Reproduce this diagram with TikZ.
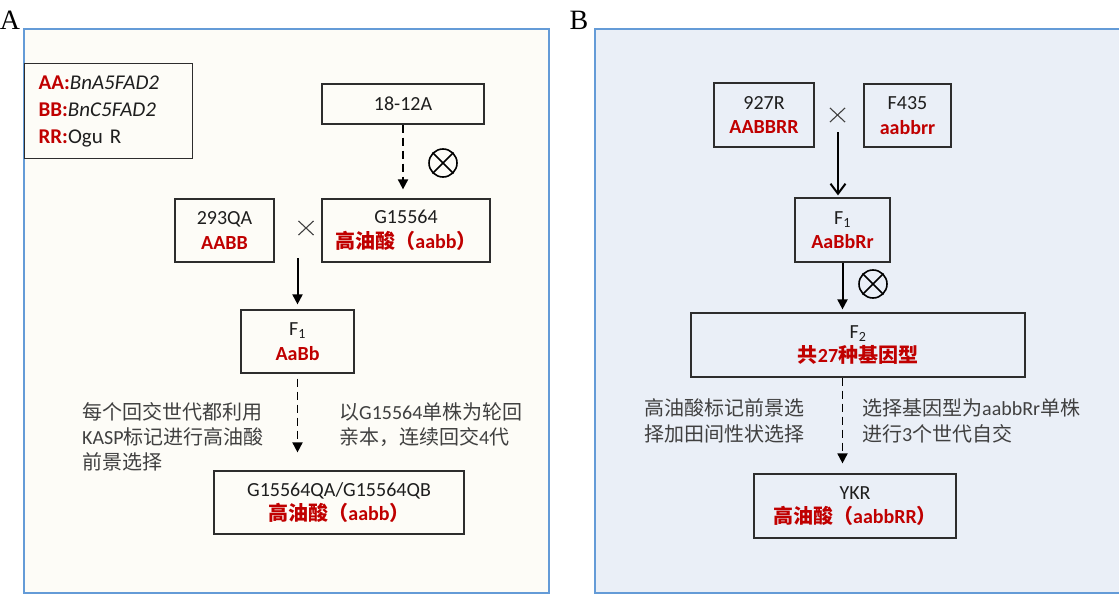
\documentclass[tikz,border=0pt]{standalone}
\usepackage{fontspec}
\setmainfont{Carlito}
\newfontfamily\cjk{Noto Sans CJK SC}
\newfontfamily\lblfont{Liberation Serif}
\usetikzlibrary{arrows.meta,shapes.misc}
\definecolor{frameblue}{RGB}{100,155,215}
\definecolor{fillA}{RGB}{253,252,247}
\definecolor{fillB}{RGB}{234,239,247}
\definecolor{redt}{RGB}{192,0,0}
\definecolor{txt}{RGB}{30,30,30}
\definecolor{notec}{RGB}{64,64,64}
\definecolor{boxc}{RGB}{45,45,45}
\newcommand\zh[1]{{\cjk #1}}
\newcommand\rd[1]{{\color{redt}\bfseries #1}}
\begin{document}
\begin{tikzpicture}[x=1pt,y=-1pt,
 box/.style={draw=boxc,line width=1.2pt,align=center,inner sep=0pt,text=txt,font=\fontsize{20}{24.5}\selectfont},
 notetext/.style={align=left,inner sep=0pt,text=notec,anchor=north west,font=\fontsize{20}{25}\selectfont},
 frame/.style={draw=frameblue,line width=2.5pt},
 selfing/.style={circle,draw=black,line width=1.6pt,minimum size=28pt,inner sep=0pt},
 crossx/.style={cross out,draw=notec,line width=1.1pt,minimum width=14pt,minimum height=13pt,inner sep=0pt},
 solidarr/.style={line width=2pt,-{Triangle[width=10pt,length=10pt]}},
 dasharr/.style={line width=1.8pt,dash pattern=on 8pt off 5pt,-{Triangle[width=10pt,length=10pt]}},
 panel/.style={font=\lblfont\fontsize{28}{28}\selectfont,inner sep=0pt,text=black}
]
\useasboundingbox (0,0) rectangle (1119,594);
\fill[white] (0,0) rectangle (1119,594);
% frames
\draw[frame,fill=fillA] (24,29) rectangle (549,593);
\draw[frame,fill=fillB] (595,29) rectangle (1130,593);
\node[panel] (labA) at (10,20) {A};
\node[panel] (labB) at (579,20) {B};

% ---------- Panel A ----------
\node[box,anchor=north west,text width=140pt,align=left,inner xsep=14pt,minimum height=95pt,font=\fontsize{21}{27}\selectfont] (legend) at (24,63)
 {\rd{AA:}\textit{BnA5FAD2}\\\rd{BB:}\textit{BnC5FAD2}\\\rd{RR:}Ogu R};
\node[box,minimum width=162pt,minimum height=40pt] (p1812) at (403,104) {18-12A};
\node[box,minimum width=99pt,minimum height=63pt] (q293) at (224.5,230.5) {293QA\\\rd{AABB}};
\node[box,minimum width=168pt,minimum height=63pt] (g155) at (406,230.5) {G15564\\\rd{\zh{高油酸（}aabb\zh{）}}};
\node[box,minimum width=113pt,minimum height=63pt] (f1a) at (297.5,341.5) {F\textsubscript{1}\\\rd{AaBb}};
\node[box,minimum width=250pt,minimum height=63pt] (bota) at (339,502.5) {G15564QA/G15564QB\\\rd{\zh{高油酸（}aabb\zh{）}}};
\node[selfing] (selfA) at (443,163) {};
\draw[line width=1.6pt] (selfA.north east) -- (selfA.south west) (selfA.north west) -- (selfA.south east);
\node[crossx] (xA) at (306,228) {};
\node[notetext] (noteA1) at (82,402) {\zh{每个回交世代都利用}\\KASP\zh{标记进行高油酸}\\\zh{前景选择}};
\node[notetext] (noteA2) at (339,402) {\zh{以}G15564\zh{单株为轮回}\\\zh{亲本，连续回交}4\zh{代}};
\draw[dasharr,shorten >=9pt] (p1812.south) -- (p1812.south |- g155.north);
\coordinate (crossA) at (297.5,258);
\draw[solidarr,shorten >=5pt] (crossA) -- (crossA |- f1a.north);
\draw[dasharr,shorten <=5pt,shorten >=18pt] (f1a.south) -- (f1a.south |- bota.north);

% ---------- Panel B ----------
\node[box,minimum width=100pt,minimum height=64pt] (r927) at (764,115) {927R\\\rd{AABBRR}};
\node[box,minimum width=87pt,minimum height=63pt] (f435) at (907.5,115.5) {F435\\\rd{aabbrr}};
\node[crossx] (xB) at (837.5,115) {};
\node[box,minimum width=95pt,minimum height=64pt] (f1b) at (842.5,230) {F\textsubscript{1}\\\rd{AaBbRr}};
\node[selfing] (selfB) at (873,284) {};
\draw[line width=1.6pt] (selfB.north east) -- (selfB.south west) (selfB.north west) -- (selfB.south east);
\node[box,minimum width=334pt,minimum height=64pt] (f2b) at (858,345) {F\textsubscript{2}\\\rd{\zh{共}27\zh{种基因型}}};
\node[box,minimum width=202pt,minimum height=64pt] (ykr) at (855,506) {YKR\\\rd{\zh{高油酸（}aabbRR\zh{）}}};
\node[notetext,font=\fontsize{20}{26}\selectfont] (noteB1) at (644,398) {\zh{高油酸标记前景选}\\\zh{择加田间性状选择}};
\node[notetext,font=\fontsize{20}{26}\selectfont] (noteB2) at (862,398) {\zh{选择基因型为}aabbRr\zh{单株}\\\zh{进行}3\zh{个世代自交}};
\coordinate (crossB) at (838,132);
\draw[line width=2pt,-{Straight Barb[width=15pt,length=10pt]},shorten >=2pt] (crossB) -- (crossB |- f1b.north);
\draw[solidarr,shorten >=3pt] (f1b.south) -- (f1b.south |- f2b.north);
\draw[dasharr,shorten >=10pt] (f1b.south |- f2b.south) -- (f1b.south |- ykr.north);
\end{tikzpicture}
\end{document}
